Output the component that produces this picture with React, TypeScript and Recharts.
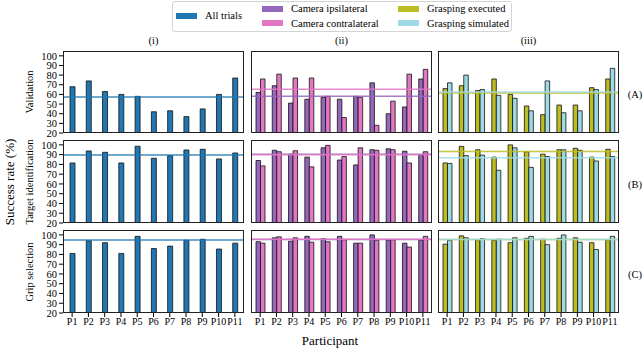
import React from 'react'
import { BarChart, Bar, XAxis, YAxis, ReferenceLine } from 'recharts'

const participants = ['P1', 'P2', 'P3', 'P4', 'P5', 'P6', 'P7', 'P8', 'P9', 'P10', 'P11']
const yTicks = [20, 30, 40, 50, 60, 70, 80, 90, 100]

// Validation
const valAll = [68, 74, 63, 60, 58, 42, 43, 37, 45, 60, 77]
const valIpsi = [62, 69, 51, 55, 57, 55, 58, 72, 40, 47, 76]
const valContra = [76, 81, 77, 77, 58, 36, 57, 28, 53, 81, 86]
const valExec = [66, 69, 64, 76, 60, 48, 39, 49, 49, 67, 76]
const valSim = [72, 80, 65, 59, 56, 43, 74, 41, 43, 65, 87]
const valMeans = { all: 57.4, ipsi: 58.1, contra: 65.3, exec: 61.5, sim: 62.6 }

// Target identification
const tgtAll = [81.5, 93.8, 92.4, 81.5, 98.6, 86.3, 89, 94.8, 95.5, 85.6, 91.7]
const tgtIpsi = [84, 94.5, 90.5, 87.5, 97, 84.5, 79.5, 95, 96, 93.5, 89.5]
const tgtContra = [78.5, 93, 94, 77.5, 99.5, 88, 97, 94.5, 95, 81.5, 93]
const tgtExec = [81.5, 98.5, 95, 87.5, 100, 93, 90.5, 95, 96.5, 87.5, 95.5]
const tgtSim = [81, 89, 89.5, 74, 97, 77, 88, 95, 94.5, 83.5, 88]
const tgtMeans = { all: 89.7, ipsi: 90.4, contra: 90.0, exec: 93.1, sim: 86.9 }

// Grip selection
const gripAll = [81, 94, 92, 81, 98.5, 86, 88.5, 94.5, 95.5, 85.5, 91.5]
const gripIpsi = [93, 97, 93.5, 98.5, 96, 98.5, 91.5, 100, 94.5, 91.5, 94.5]
const gripContra = [91.5, 98, 97, 92.5, 93, 95, 91.5, 94.5, 95, 87.5, 98.5]
const gripExec = [90.5, 99, 95, 94.5, 92, 96.5, 95.5, 96.5, 97, 92, 95]
const gripSim = [94.5, 97, 96, 95.5, 97, 98.5, 90, 100, 92.5, 85, 98.5]
const gripMeans = { all: 94.8, ipsi: 95.2, contra: 95.6, exec: 95.2, sim: 95.3 }

const rowLabels = ['Validation', 'Target identification', 'Grip selection']
const colTitles = ['(i)', '(ii)', '(iii)']
const rowTags = ['(A)', '(B)', '(C)']

const C = {
  all: '#1f77b4',
  ipsi: '#9467bd',
  contra: '#e377c2',
  exec: '#bcbd22',
  sim: '#9edae5',
}

const FONT = '"Liberation Serif", "Times New Roman", Times, Tinos, "DejaVu Serif", serif'

// plot-area geometry (px)
const COL_X = [63, 251, 438]
const PLOT_W = 181
const ROW_Y = [51, 140, 230]
const ROW_H = [82, 83, 83]

type Series = { key: string; values: number[]; mean: number; color: string }

function Panel({ series, col, row }: { series: Series[]; col: number; row: number }) {
  const showY = col === 0
  const showX = row === 2
  const yW = showY ? 30 : 0
  const xH = showX ? 22 : 0
  const w = PLOT_W
  const h = ROW_H[row]
  const data = participants.map((p, i) => {
    const d: Record<string, any> = { p }
    series.forEach((s) => (d[s.key] = s.values[i]))
    return d
  })
  const barSize = series.length === 1 ? 5 : 4.5

  return (
    <div style={{ position: 'absolute', left: COL_X[col] - yW, top: ROW_Y[row], width: w + yW, height: h + xH }}>
      <BarChart
        width={w + yW}
        height={h + xH}
        data={data}
        margin={{ top: 0, right: 0, bottom: 0, left: 0 }}
        barGap={0}
        barCategoryGap={0}
        style={{ overflow: 'visible' }}
      >
        <XAxis
          dataKey="p"
          hide={!showX}
          height={xH}
          padding={{ left: 1, right: 1 }}
          interval={0}
          axisLine={false}
          tickSize={4}
          tickMargin={1}
          tickLine={{ stroke: '#000' }}
          tick={{ fontSize: 10, fill: '#000', fontFamily: FONT }}
        />
        <YAxis
          hide={!showY}
          width={yW}
          domain={[20, 105]}
          ticks={yTicks}
          allowDataOverflow
          interval={0}
          axisLine={false}
          tickSize={4}
          tickMargin={2}
          tickLine={{ stroke: '#000' }}
          tick={{ fontSize: 10.5, fill: '#000', fontFamily: FONT }}
        />
        {series.map((s) => (
          <Bar
            key={s.key}
            dataKey={s.key}
            fill={s.color}
            stroke="#111"
            strokeWidth={0.8}
            barSize={barSize}
            isAnimationActive={false}
          />
        ))}
        {series.map((s) => (
          <ReferenceLine key={'m' + s.key} y={s.mean} stroke={s.color} strokeWidth={1.5} strokeOpacity={0.85} />
        ))}
      </BarChart>
      <div
        style={{
          position: 'absolute',
          left: yW,
          top: 0,
          width: w,
          height: h,
          border: '1px solid #222',
          boxSizing: 'border-box',
          pointerEvents: 'none',
        }}
      />
    </div>
  )
}

function Swatch({ x, y, color }: { x: number; y: number; color: string }) {
  return <div style={{ position: 'absolute', left: x, top: y, width: 21, height: 6, background: color }} />
}

function Txt({ x, y, children, size = 10.5, rotate = false, anchor = 'middle' }: any) {
  const tx = anchor === 'start' ? '0' : '-50%'
  return (
    <div
      style={{
        position: 'absolute',
        left: x,
        top: y,
        fontSize: size,
        lineHeight: 1,
        whiteSpace: 'nowrap',
        transform: `translate(${tx}, -50%)${rotate ? ' rotate(-90deg)' : ''}`,
        transformOrigin: rotate ? '50% 50%' : undefined,
      }}
    >
      {children}
    </div>
  )
}

export default function App() {
  const rows: Series[][][] = [
    [
      [{ key: 'all', values: valAll, mean: valMeans.all, color: C.all }],
      [
        { key: 'ipsi', values: valIpsi, mean: valMeans.ipsi, color: C.ipsi },
        { key: 'contra', values: valContra, mean: valMeans.contra, color: C.contra },
      ],
      [
        { key: 'exec', values: valExec, mean: valMeans.exec, color: C.exec },
        { key: 'sim', values: valSim, mean: valMeans.sim, color: C.sim },
      ],
    ],
    [
      [{ key: 'all', values: tgtAll, mean: tgtMeans.all, color: C.all }],
      [
        { key: 'ipsi', values: tgtIpsi, mean: tgtMeans.ipsi, color: C.ipsi },
        { key: 'contra', values: tgtContra, mean: tgtMeans.contra, color: C.contra },
      ],
      [
        { key: 'exec', values: tgtExec, mean: tgtMeans.exec, color: C.exec },
        { key: 'sim', values: tgtSim, mean: tgtMeans.sim, color: C.sim },
      ],
    ],
    [
      [{ key: 'all', values: gripAll, mean: gripMeans.all, color: C.all }],
      [
        { key: 'ipsi', values: gripIpsi, mean: gripMeans.ipsi, color: C.ipsi },
        { key: 'contra', values: gripContra, mean: gripMeans.contra, color: C.contra },
      ],
      [
        { key: 'exec', values: gripExec, mean: gripMeans.exec, color: C.exec },
        { key: 'sim', values: gripSim, mean: gripMeans.sim, color: C.sim },
      ],
    ],
  ]

  return (
    <div
      style={{
        position: 'absolute',
        left: 0,
        top: 0,
        width: 644,
        height: 348,
        background: '#fff',
        fontFamily: FONT,
        color: '#000',
        overflow: 'hidden',
      }}
    >
      <style>{'.recharts-surface{overflow:visible}'}</style>
      {/* legend */}
      <div
        style={{
          position: 'absolute',
          left: 172,
          top: 1,
          width: 340,
          height: 31,
          border: '1px solid #d4d4d4',
          borderRadius: 3,
          boxSizing: 'border-box',
        }}
      />
      <Swatch x={176} y={13} color={C.all} />
      <Txt x={205} y={16} anchor="start">All trials</Txt>
      <Swatch x={262} y={5.5} color={C.ipsi} />
      <Txt x={291} y={9} anchor="start">Camera ipsilateral</Txt>
      <Swatch x={262} y={20} color={C.contra} />
      <Txt x={291} y={23.5} anchor="start">Camera contralateral</Txt>
      <Swatch x={398} y={5.5} color={C.exec} />
      <Txt x={427} y={9} anchor="start">Grasping executed</Txt>
      <Swatch x={398} y={20} color={C.sim} />
      <Txt x={427} y={23.5} anchor="start">Grasping simulated</Txt>

      {colTitles.map((t, i) => (
        <Txt key={t} x={COL_X[i] + PLOT_W / 2} y={41}>
          {t}
        </Txt>
      ))}

      {rows.map((r, ri) =>
        r.map((s, ci) => <Panel key={ri + '-' + ci} series={s} col={ci} row={ri} />)
      )}

      {rowLabels.map((t, i) => (
        <Txt key={t} x={30} y={ROW_Y[i] + ROW_H[i] / 2} rotate>
          {t}
        </Txt>
      ))}
      {rowTags.map((t, i) => (
        <Txt key={t} x={635} y={ROW_Y[i] + ROW_H[i] / 2 + 3}>
          {t}
        </Txt>
      ))}

      <Txt x={9} y={182} size={13} rotate>
        Success rate (%)
      </Txt>
      <Txt x={330} y={340} size={13}>
        Participant
      </Txt>
    </div>
  )
}
